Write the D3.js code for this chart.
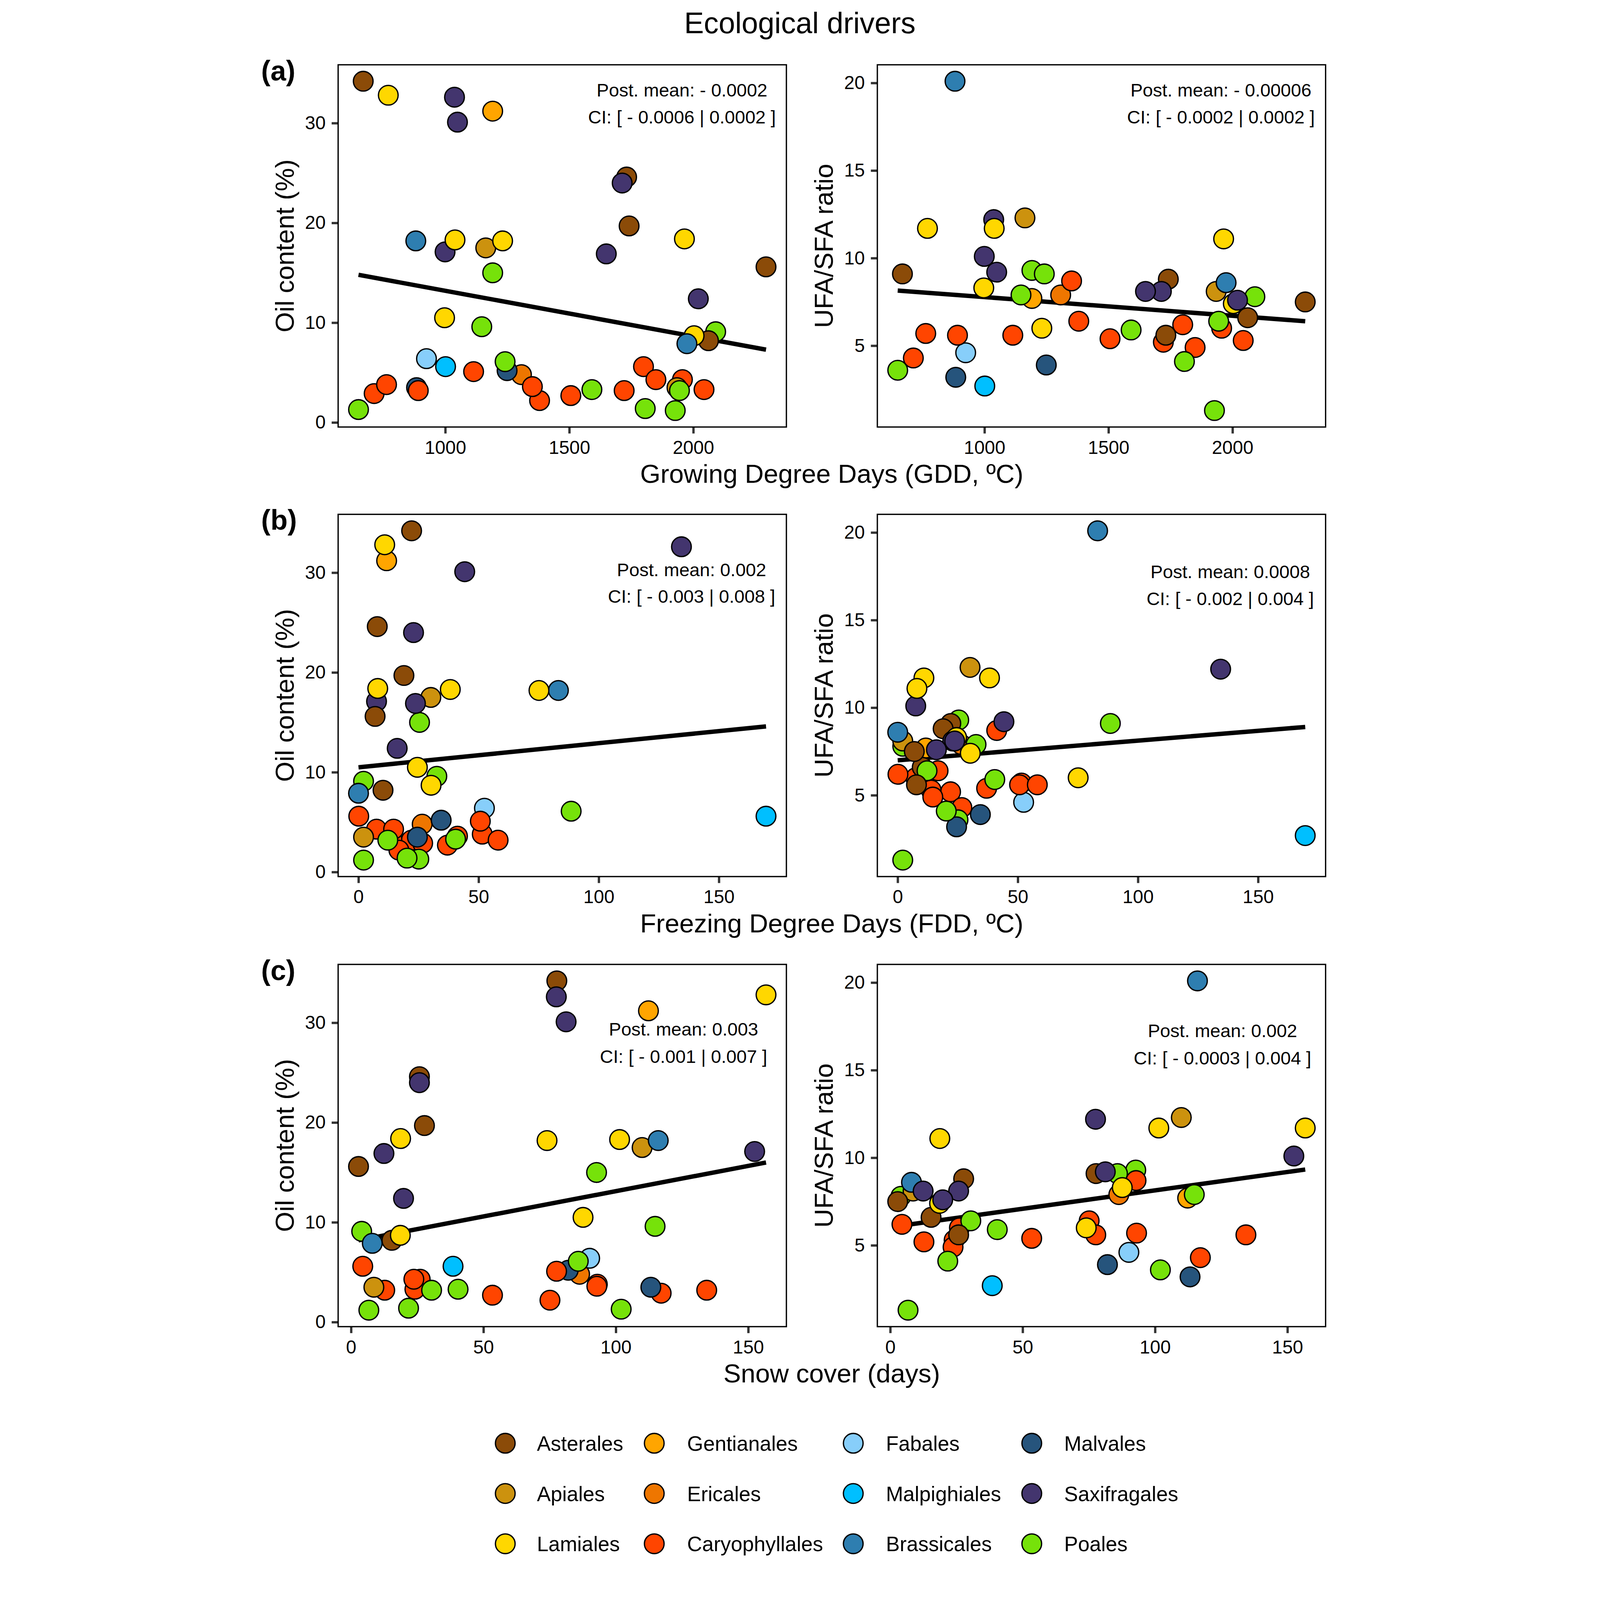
<!DOCTYPE html>
<html>
<head>
<meta charset="utf-8">
<script src="https://cdn.jsdelivr.net/npm/d3@7"></script>
<style>
  html, body { margin: 0; padding: 0; background: #fff; overflow: hidden; }
  .chart { width: 100vw; height: 100vh; }
  svg { display: block; width: 100%; height: 100%; font-family: "Liberation Sans", Arial, sans-serif; }
</style>
</head>
<body>
<div class="chart"></div>
<script>
"use strict";
(function(){

var width = 4251;
var height = 6175;

// plant orders, legend order (column by column)
var orderNames = ["Asterales", "Apiales", "Lamiales",
                  "Gentianales", "Ericales", "Caryophyllales",
                  "Fabales", "Malpighiales", "Brassicales",
                  "Malvales", "Saxifragales", "Poales"];
var orderColors = ["#8B4B08", "#CC920E", "#FFD700",
                   "#FFA500", "#EE7600", "#FF4500",
                   "#87CEFA", "#00BFFF", "#2E7EB0",
                   "#26547C", "#43356E", "#76E20A"];

// one entry per species, in drawing order
var order = ["Ericales", "Gentianales", "Fabales", "Caryophyllales", "Caryophyllales",
             "Caryophyllales", "Caryophyllales", "Caryophyllales", "Poales", "Poales",
             "Poales", "Saxifragales", "Asterales", "Asterales", "Apiales",
             "Asterales", "Malvales", "Caryophyllales", "Caryophyllales", "Caryophyllales",
             "Caryophyllales", "Poales", "Malvales", "Caryophyllales", "Caryophyllales",
             "Apiales", "Poales", "Poales", "Asterales", "Saxifragales",
             "Caryophyllales", "Poales", "Poales", "Lamiales", "Saxifragales",
             "Lamiales", "Lamiales", "Asterales", "Lamiales", "Lamiales",
             "Saxifragales", "Brassicales", "Saxifragales", "Brassicales", "Saxifragales",
             "Lamiales", "Poales", "Malpighiales"];
var gdd = [1307, 1191, 924, 1721, 713, 1956, 2043, 1380, 2090, 650,
           1191, 999, 669, 1741, 1163, 2061, 884, 1506, 1799, 1849,
           763, 1927, 1249, 1114, 891, 1934, 1944, 1241, 1731, 1713,
           1351, 1591, 1147, 770, 1037, 1039, 1964, 2293, 997, 2003,
           2020, 1974, 1649, 881, 1049, 1231, 1806, 1001];
var fdd = [26.5, 11.7, 52.4, 22.0, 26.7, 7.5, 13.9, 16.8, 2.1, 25.1,
           25.4, 7.5, 22.1, 18.9, 30.1, 10.2, 24.5, 37.0, 0.1, 14.6,
           51.5, 2.1, 34.4, 50.7, 58.1, 2.1, 12.2, 88.5, 7.8, 22.9,
           41.2, 40.4, 32.6, 10.9, 134.4, 38.2, 8.0, 6.9, 24.5, 30.2,
           16.1, 0.0, 23.7, 83.2, 44.2, 75.1, 20.2, 169.6];
var snow = [86.3, 112.3, 90.1, 12.7, 117.1, 26.1, 24.1, 75.1, 4.0, 102.0,
            92.7, 152.4, 77.7, 27.7, 109.9, 15.4, 113.2, 53.4, 4.4, 23.7,
            93.0, 6.7, 82.0, 77.6, 134.3, 8.6, 30.4, 85.8, 25.8, 25.8,
            92.8, 40.4, 114.8, 156.7, 77.5, 101.4, 18.7, 2.8, 87.6, 18.6,
            19.8, 8.0, 12.4, 116.0, 81.2, 74.0, 21.7, 38.5];
var oil = [4.8, 31.2, 6.4, 3.2, 2.9, 4.3, 3.3, 2.2, 9.1, 1.3,
           15.0, 17.1, 34.2, 19.7, 17.5, 8.2, 3.5, 2.7, 5.6, 4.3,
           3.8, 1.2, 5.2, 5.1, 3.2, 3.5, 3.2, 6.1, 24.6, 24.0,
           3.6, 3.3, 9.6, 32.8, 32.6, 18.3, 18.4, 15.6, 10.5, 8.7,
           12.4, 7.9, 16.9, 18.2, 30.1, 18.2, 1.4, 5.6];
var ufaSfa = [7.9, 7.7, 4.6, 5.2, 4.3, 6.0, 5.3, 6.4, 7.8, 3.6,
              9.3, 10.1, 9.1, 8.8, 12.3, 6.6, 3.2, 5.4, 6.2, 4.9,
              5.7, 1.3, 3.9, 5.6, 5.6, 8.1, 6.4, 9.1, 5.6, 8.1,
              8.7, 5.9, 7.9, 11.7, 12.2, 11.7, 11.1, 7.5, 8.3, 7.4,
              7.6, 8.6, 8.1, 20.1, 9.2, 6.0, 4.1, 2.7];

// fitted model line: value at the lowest and at the highest x
var fitGddOil = [14.8, 7.3];
var fitGddRatio = [8.15, 6.4];
var fitFddOil = [10.5, 14.6];
var fitFddRatio = [7.0, 8.9];
var fitSnowOil = [8.2, 16.0];
var fitSnowRatio = [6.1, 9.33];

var postMean = ["- 0.0002", "- 0.00006", "0.002", "0.0008", "0.003", "0.002"];
var credInt = ["- 0.0006 | 0.0002", "- 0.0002 | 0.0002", "- 0.003 | 0.008",
               "- 0.002 | 0.004", "- 0.001 | 0.007", "- 0.0003 | 0.004"];

var xTitles = ["Growing Degree Days (GDD, \u00BAC)", "Freezing Degree Days (FDD, \u00BAC)", "Snow cover (days)"];
var yTitles = ["Oil content (%)", "UFA/SFA ratio"];
var rowLabels = ["(a)", "(b)", "(c)"];
var gddTicks = [1000, 1500, 2000];
var dayTicks = [0, 50, 100, 150];
var oilTicks = [0, 10, 20, 30];
var ratioTicks = [5, 10, 15, 20];

var color = d3.scaleOrdinal().domain(orderNames).range(orderColors);

var rows = order.map(function(o, i){
  return {order: o, gdd: gdd[i], fdd: fdd[i], snow: snow[i], oil: oil[i], ratio: ufaSfa[i]};
});

// layout
var colLeft = [343, 2424];
var panelW = 1730;
var rowTop = [250, 1985, 3722];
var panelH = 1398;
var R = 38;

// annotation centre x and baseline offsets from panel top
var annPos = [[1670, 123, 226], [3750, 123, 226],
              [1707, 239, 341], [3786, 246, 350],
              [1676, 274, 380], [3756, 280, 386]];

var panels = [
  {row: 0, col: 0, xk: 'gdd', yk: 'oil', fit: fitGddOil, xt: gddTicks, yt: oilTicks},
  {row: 0, col: 1, xk: 'gdd', yk: 'ratio', fit: fitGddRatio, xt: gddTicks, yt: ratioTicks},
  {row: 1, col: 0, xk: 'fdd', yk: 'oil', fit: fitFddOil, xt: dayTicks, yt: oilTicks},
  {row: 1, col: 1, xk: 'fdd', yk: 'ratio', fit: fitFddRatio, xt: dayTicks, yt: ratioTicks},
  {row: 2, col: 0, xk: 'snow', yk: 'oil', fit: fitSnowOil, xt: dayTicks, yt: oilTicks},
  {row: 2, col: 1, xk: 'snow', yk: 'ratio', fit: fitSnowRatio, xt: dayTicks, yt: ratioTicks}
];

// scale the whole figure into whatever the window gives
var svg = d3.select('.chart')
            .append('svg')
            .attr('viewBox', '0 0 ' + width + ' ' + height)
            .attr('preserveAspectRatio', 'xMidYMin meet');

svg.append('rect').attr('width', width).attr('height', height).attr('fill', '#fff');

// ggplot-like 5% expansion
function expand(ext){
  var d = (ext[1] - ext[0]) * 0.05;
  return [ext[0] - d, ext[1] + d];
}

function styleAxis(g){
  g.select('.domain').remove();
  g.selectAll('.tick line').attr('stroke', '#333').attr('stroke-width', 9);
  g.selectAll('.tick text').attr('fill', '#000')
   .attr('font-size', 72)
   .attr('font-family', '"Liberation Sans", Arial, sans-serif');
}

panels.forEach(function(p, k){
  var left = colLeft[p.col];
  var top = rowTop[p.row];
  var xExt = d3.extent(rows, function(d){ return d[p.xk]; });
  var yExt = d3.extent(rows, function(d){ return d[p.yk]; });

  var x = d3.scaleLinear().domain(expand(xExt)).range([left, left + panelW]);
  var y = d3.scaleLinear().domain(expand(yExt)).range([top + panelH, top]);

  var g = svg.append('g');

  g.append('g')
   .attr('transform', 'translate(0,' + (top + panelH) + ')')
   .call(d3.axisBottom(x).tickValues(p.xt).tickSize(25).tickPadding(27).tickFormat(d3.format('d')))
   .call(styleAxis);

  g.append('g')
   .attr('transform', 'translate(' + left + ',0)')
   .call(d3.axisLeft(y).tickValues(p.yt).tickSize(25).tickPadding(23).tickFormat(d3.format('d')))
   .call(styleAxis);

  // model line
  var line = d3.line()
               .x(function(d){ return x(d[0]); })
               .y(function(d){ return y(d[1]); });
  g.append('path')
   .datum([[xExt[0], p.fit[0]], [xExt[1], p.fit[1]]])
   .attr('d', line)
   .attr('fill', 'none')
   .attr('stroke', '#000')
   .attr('stroke-width', 17);

  g.selectAll('.pt')
   .data(rows)
   .enter().append('circle')
   .attr('class', 'pt')
   .attr('cx', function(d){ return x(d[p.xk]); })
   .attr('cy', function(d){ return y(d[p.yk]); })
   .attr('r', R)
   .attr('fill', function(d){ return color(d.order); })
   .attr('stroke', '#000')
   .attr('stroke-width', 5);

  g.append('rect')
   .attr('x', left).attr('y', top)
   .attr('width', panelW).attr('height', panelH)
   .attr('fill', 'none')
   .attr('stroke', '#000')
   .attr('stroke-width', 5);

  var a = annPos[k];
  g.append('text')
   .attr('x', a[0]).attr('y', top + a[1])
   .attr('text-anchor', 'middle')
   .attr('font-size', 71)
   .text('Post. mean: ' + postMean[k]);
  g.append('text')
   .attr('x', a[0]).attr('y', top + a[2])
   .attr('text-anchor', 'middle')
   .attr('font-size', 71)
   .text('CI: [ ' + credInt[k] + ' ]');

  // y title
  svg.append('text')
     .attr('transform', 'translate(' + (left - 172) + ',' + (top + panelH / 2) + ') rotate(-90)')
     .attr('text-anchor', 'middle')
     .attr('font-size', 101)
     .text(yTitles[p.col]);
});

rowTop.forEach(function(top, r){
  svg.append('text')
     .attr('x', 2248)
     .attr('y', top + panelH + 216)
     .attr('text-anchor', 'middle')
     .attr('font-size', 101)
     .text(xTitles[r]);

  svg.append('text')
     .attr('x', 46)
     .attr('y', top + 60)
     .attr('font-size', 108)
     .attr('font-weight', 'bold')
     .text(rowLabels[r]);
});

svg.append('text')
   .attr('x', 2125)
   .attr('y', 128)
   .attr('text-anchor', 'middle')
   .attr('font-size', 114)
   .text('Ecological drivers');

// legend, 3 rows filled column by column
var legCircleX = [988, 1563, 2331, 3020];
var legTextX = [1110, 1690, 2457, 3145];
var legY = [5570, 5764, 5958];

var leg = svg.selectAll('.leg')
             .data(orderNames)
             .enter().append('g')
             .attr('class', 'leg');

leg.append('circle')
   .attr('cx', function(d, i){ return legCircleX[Math.floor(i / 3)]; })
   .attr('cy', function(d, i){ return legY[i % 3]; })
   .attr('r', R)
   .attr('fill', function(d){ return color(d); })
   .attr('stroke', '#000')
   .attr('stroke-width', 5);

leg.append('text')
   .attr('x', function(d, i){ return legTextX[Math.floor(i / 3)]; })
   .attr('y', function(d, i){ return legY[i % 3] + 29; })
   .attr('font-size', 80)
   .text(function(d){ return d; });

})();
</script>
</body>
</html>
